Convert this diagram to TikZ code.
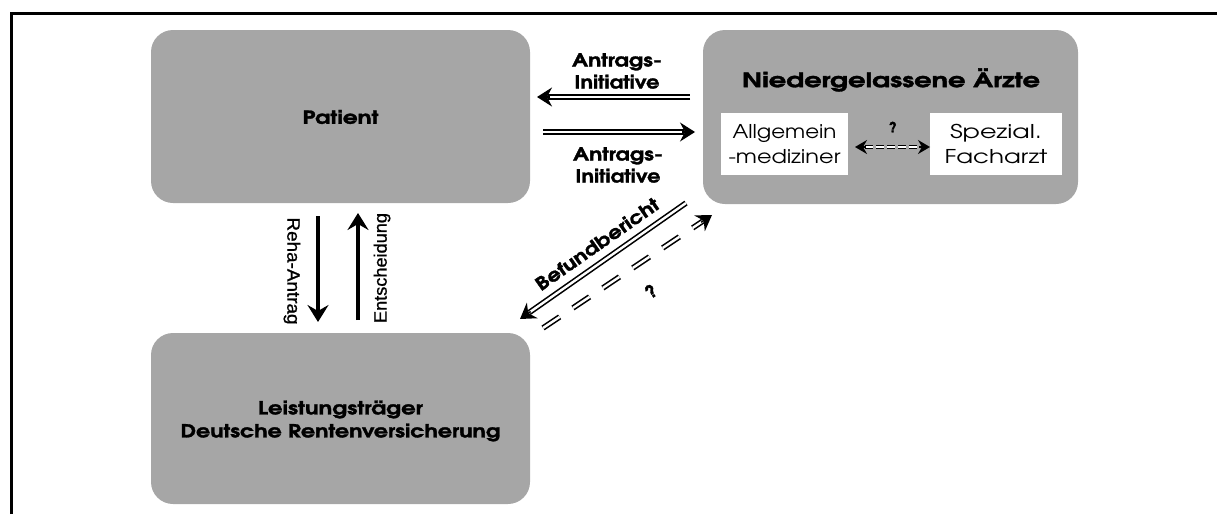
\documentclass[tikz,border=0pt]{standalone}
\usepackage{fontspec}
\usepackage{graphicx}
\setmainfont{TeX Gyre Adventor}[BoldFeatures={FakeBold=1.5}]
\newfontfamily\arialfont{Liberation Sans}[FakeBold=1]
\usetikzlibrary{arrows.meta,calc}
\definecolor{boxgray}{RGB}{166,166,166}
\newcommand{\fitto}[2]{\resizebox{#1}{\height}{#2}}
\tikzset{
  graybox/.style={fill=boxgray, draw=none, rounded corners=22pt, inner sep=0pt},
  whitebox/.style={fill=white, draw=none, inner sep=0pt, align=center, font=\fontsize{19}{25}\selectfont},
  boxlabel/.style={align=center, inner sep=0pt, font=\bfseries\fontsize{18}{23}\selectfont},
  arrlabel/.style={align=center, inner sep=0pt, font=\bfseries\fontsize{18}{22}\selectfont},
  vlabel/.style={inner sep=0pt, font=\arialfont\fontsize{18}{20}\selectfont},
  dblline/.style={draw=black, double=white, double distance=2.4pt, line width=1.6pt},
  tipstyle/.style={-{Stealth[length=15pt,width=19pt,inset=5pt]}, line width=1.5pt},
  thickarrow/.style={line width=3.5pt, -{Stealth[length=17pt,width=21pt,inset=6pt]}},
}
\begin{document}
\begin{tikzpicture}[x=1pt,y=-1pt]
\useasboundingbox (0,0) rectangle (1217,514);
% frame
\draw[line width=3pt] (11.5,514) -- (11.5,13) -- (1217,13);
% boxes
\node[graybox, minimum width=379pt, minimum height=173pt] (patient) at (340.5,116.5) {};
\node[boxlabel] (patientlabel) at (340.5,117) {\fitto{76pt}{Patient}};
\node[graybox, minimum width=379pt, minimum height=171pt] (drv) at (340.5,418.5) {};
\node[boxlabel] (drvlabel) at (340.5,421) {\fitto{165pt}{Leistungsträger}\\\fitto{320pt}{Deutsche Rentenversicherung}};
\node[graybox, minimum width=375pt, minimum height=174pt] (aerzte) at (890.5,117) {};
\node[boxlabel, font=\bfseries\fontsize{20}{23}\selectfont] (aerztelabel) at (891,80) {\fitto{298pt}{Niedergelassene Ärzte}};
\node[whitebox, minimum width=127pt, minimum height=62pt] (allg) at (784.5,144) {\fitto{104pt}{Allgemein}\\\fitto{112pt}{-mediziner}};
\node[whitebox, minimum width=132pt, minimum height=62pt] (spez) at (996,144) {\fitto{92pt}{Spezial.}\\\fitto{103pt}{Facharzt}};
% coordinates
\coordinate (h1s) at (690,97);
\coordinate (h1e) at (537,97);
\coordinate (h2s) at (543,132);
\coordinate (h2e) at (695,132);
\coordinate (bs) at (686,203);
\coordinate (be) at (520,319);
\coordinate (qs) at (543,328);
\coordinate (qe) at (712,215);
\coordinate (v1s) at (318,216);
\coordinate (v1e) at (318,322);
\coordinate (v2s) at (358,320);
\coordinate (v2e) at (358,213);
% horizontal double arrows
\draw[dblline, shorten >=11pt] (h1s) -- (h1e);
\draw[tipstyle] ($(h1e)!13pt!(h1s)$) -- (h1e);
\draw[dblline, shorten >=11pt] (h2s) -- (h2e);
\draw[tipstyle] ($(h2e)!13pt!(h2s)$) -- (h2e);
\node[arrlabel] (lab1) at (617,71) {\fitto{90pt}{Antrags-}\\\fitto{85pt}{Initiative}};
\node[arrlabel] (lab2) at (618,165) {\fitto{90pt}{Antrags-}\\\fitto{85pt}{Initiative}};
% vertical arrows
\draw[thickarrow] (v1s) -- (v1e);
\draw[thickarrow] (v2s) -- (v2e);
\node[vlabel, rotate=-90] (reha) at (292,271) {\fitto{107pt}{Reha-Antrag}};
\node[vlabel, rotate=90] (ents) at (382,268) {\fitto{110pt}{Entscheidung}};
% Befundbericht
\draw[dblline, shorten >=11pt] (bs) -- (be);
\draw[tipstyle] ($(be)!13pt!(bs)$) -- (be);
\node[arrlabel, rotate=35] (bef) at (597,244) {\fitto{146pt}{Befundbericht}};
% dashed question arrow
\draw[dblline, dash pattern=on 20pt off 16pt, shorten >=11pt] (qs) -- (qe);
\draw[tipstyle] ($(qe)!13pt!(qs)$) -- (qe);
\node[arrlabel, rotate=35] (q1) at (651,291) {?};
% inner dashed arrow
\coordinate (is) at (855,147);
\coordinate (ie) at (930,147);
\draw[draw=black, double=white, double distance=1.8pt, line width=1.2pt, dash pattern=on 8pt off 3pt, shorten >=10pt, shorten <=10pt] (is) -- (ie);
\draw[-{Stealth[length=12pt,width=14pt,inset=4pt]}, line width=1.4pt] ($(ie)!11pt!(is)$) -- (ie);
\draw[-{Stealth[length=12pt,width=14pt,inset=4pt]}, line width=1.4pt] ($(is)!11pt!(ie)$) -- (is);
\node[font=\bfseries\fontsize{14}{14}\selectfont, inner sep=0pt] (q2) at (893,127) {?};
\end{tikzpicture}
\end{document}
